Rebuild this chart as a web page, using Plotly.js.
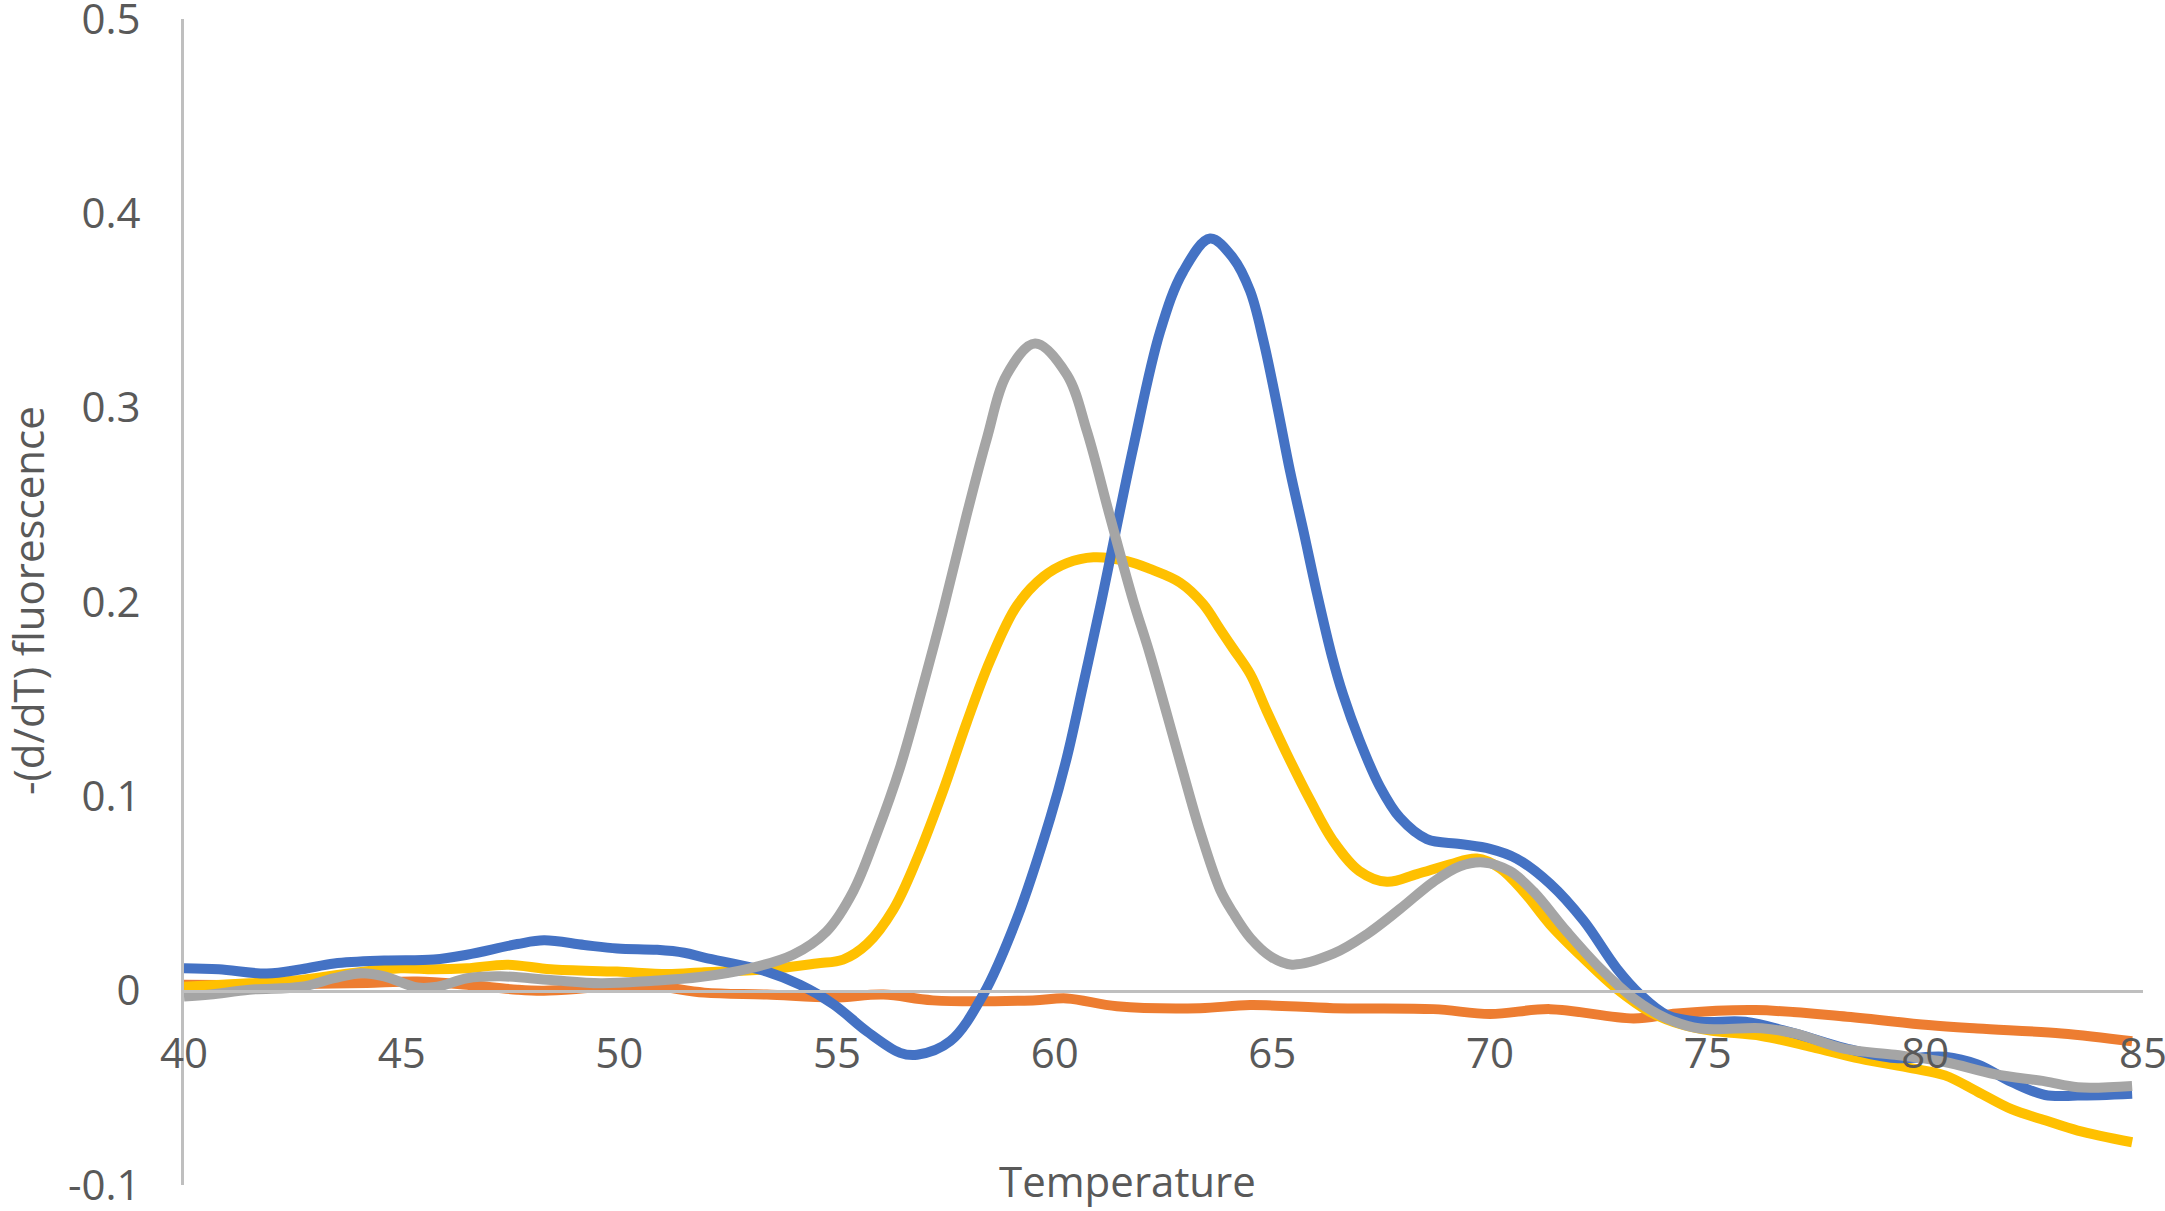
<!DOCTYPE html>
<html>
<head>
<meta charset="utf-8">
<script src="https://cdn.plot.ly/plotly-3.0.1.min.js"></script>
<style>
  body { margin: 0; background: #fff; }
  #plot-area { width: 2165px; height: 1211px; }
</style>
</head>
<body>
<div id="plot-area"></div>
<script>
// melt curves: temperature (x) and -(d/dT) fluorescence (y)
const blueT = [40, 40.8, 41.9, 42.7, 43.45, 44.6, 45.74, 46.5, 47.66, 48.27, 49.19, 49.95, 50.87, 51.49, 51.95,
  53.39, 54.15, 54.92, 55.69, 56.45, 56.84, 57.6, 58.36, 59.13, 59.9, 60.28, 60.66, 61.05, 61.8, 62.42,
  62.95, 63.57, 64.1, 64.49, 64.8, 65.11, 65.41, 65.72, 66.02, 66.37, 66.63, 67.0, 67.47, 67.93, 68.55,
  69.31, 70.0, 70.61, 71.38, 72.15, 72.91, 73.45, 74.06, 74.83, 75.86, 77.0, 78.15, 79.3, 80.45, 81.2,
  81.98, 82.75, 83.5, 84.75]
const blueY = [0.0115, 0.011, 0.0088, 0.011, 0.014, 0.0155, 0.016, 0.0185, 0.024, 0.0259, 0.0235, 0.0217, 0.021, 0.0195, 0.017,
  0.0098, 0.003, -0.007, -0.021, -0.032, -0.033, -0.026, -0.002, 0.037, 0.089, 0.120, 0.158, 0.198, 0.279, 0.339,
  0.370, 0.387, 0.377, 0.360, 0.334, 0.301, 0.267, 0.236, 0.205, 0.172, 0.152, 0.129, 0.105, 0.089, 0.078,
  0.0755, 0.073, 0.068, 0.055, 0.036, 0.0115, -0.002, -0.0125, -0.016, -0.016, -0.022, -0.0295, -0.0347, -0.034, -0.038,
  -0.047, -0.0537, -0.054, -0.053]

const orangeT = [40, 41.5, 43.06, 44.2, 45.36, 46.5, 47.66, 48.27, 49.57, 50.72, 51.95, 53.39, 54.92, 56.07,
  57.2, 59.5, 60.28, 61.43, 63.34, 64.49, 66.4, 68.7, 70.0, 71.38, 73.3, 74.3, 76.1, 78.2, 80.07, 81.2,
  83.13, 84.75]
const orangeY = [0.003, 0.003, 0.0035, 0.004, 0.0047, 0.003, 0.0005, 0.0, 0.0017, 0.0025, -0.001, -0.002, -0.0035, -0.002,
  -0.005, -0.005, -0.004, -0.008, -0.009, -0.0074, -0.009, -0.0095, -0.012, -0.0095, -0.0143, -0.0117, -0.010, -0.0134, -0.0177, -0.0195,
  -0.022, -0.026]

const goldT = [40, 41.5, 42.7, 43.83, 44.98, 45.74, 46.5, 47.43, 48.42, 49.95, 51.1, 51.95, 53.39, 54.53,
  55.14, 55.69, 56.3, 56.84, 57.44, 57.98, 58.52, 59.13, 59.74, 60.28, 60.89, 61.66, 62.19, 62.88, 63.41,
  63.8, 64.1, 64.49, 64.87, 65.33, 65.87, 66.4, 67.0, 67.63, 68.32, 69.08, 69.7, 70.23, 70.77, 71.38,
  72.15, 72.91, 73.68, 74.44, 75.1, 76.24, 77.4, 78.5, 79.7, 80.45, 81.2, 81.98, 82.75, 83.5, 84.75]
const goldY = [0.002, 0.0038, 0.0055, 0.009, 0.0115, 0.011, 0.0115, 0.0134, 0.011, 0.0098, 0.0086, 0.0095, 0.011, 0.014,
  0.016, 0.024, 0.042, 0.068, 0.103, 0.138, 0.170, 0.198, 0.213, 0.220, 0.223, 0.221, 0.217, 0.210, 0.199,
  0.186, 0.176, 0.163, 0.144, 0.122, 0.098, 0.077, 0.0615, 0.056, 0.060, 0.065, 0.068, 0.063, 0.051, 0.034,
  0.0166, 0.001, -0.011, -0.0177, -0.0207, -0.0233, -0.029, -0.035, -0.040, -0.0436, -0.052, -0.061, -0.0667, -0.072, -0.078]

const greyT = [40, 40.6, 41.5, 42.7, 43.45, 44.06, 44.6, 45.36, 45.82, 46.5, 47.27, 48.42, 49.57, 50.72,
  51.85, 53.0, 53.99, 54.76, 55.37, 55.9, 56.45, 56.99, 57.44, 57.98, 58.44, 58.9, 59.55, 60.28, 60.74,
  61.27, 61.8, 62.19, 62.88, 63.34, 63.8, 64.1, 64.5, 65.0, 65.45, 66.4, 67.17, 67.93, 68.7, 69.31,
  69.85, 70.46, 71.0, 71.76, 72.53, 73.3, 74.06, 74.83, 76.24, 77.0, 78.15, 79.3, 80.45, 81.6, 82.75,
  83.5, 84.75]
const greyY = [-0.003, -0.002, 0.0005, 0.002, 0.0064, 0.009, 0.0074, 0.0016, 0.002, 0.0064, 0.0074, 0.0055, 0.0038, 0.005,
  0.007, 0.0115, 0.0185, 0.0305, 0.051, 0.080, 0.115, 0.158, 0.196, 0.245, 0.284, 0.317, 0.333, 0.317, 0.288,
  0.244, 0.201, 0.173, 0.118, 0.082, 0.052, 0.040, 0.027, 0.017, 0.0134, 0.019, 0.029, 0.042, 0.056, 0.064,
  0.066, 0.0615, 0.051, 0.0305, 0.0115, -0.004, -0.0143, -0.0195, -0.0193, -0.022, -0.030, -0.033, -0.0367, -0.043, -0.0467,
  -0.0497, -0.049]

const xTickVals = [40, 45, 50, 55, 60, 65, 70, 75, 80, 85]
const xTickText = ["40", "45", "50", "55", "60", "65", "70", "75", "80", "85"]
const yTickVals = [-0.1, 0, 0.1, 0.2, 0.3, 0.4, 0.5]
const yTickText = ["-0.1", "0", "0.1", "0.2", "0.3", "0.4", "0.5"]

showPlot()

function curve(x, y, color) {
  return {
    x: x,
    y: y,
    type: 'scatter',
    mode: 'lines',
    line: {color: color, width: 10, shape: 'spline', smoothing: 1},
    hoverinfo: 'skip'
  }
}

function showPlot() {
  const font = {family: 'Open Sans, sans-serif', size: 42, color: '#595959'}
  const axisLine = '#BFBFBF'

  const traces = [
    curve(orangeT, orangeY, '#ED7D31'),
    curve(goldT, goldY, '#FFC000'),
    curve(blueT, blueY, '#4472C4'),
    curve(greyT, greyY, '#A5A5A5')
  ]

  const layout = {
    width: 2165,
    height: 1211,
    margin: {l: 184, r: 22, t: 19, b: 26},
    paper_bgcolor: '#ffffff',
    plot_bgcolor: '#ffffff',
    showlegend: false,
    font: font,
    xaxis: {
      range: [40, 85],
      tickvals: xTickVals,
      ticktext: xTickText,
      ticks: '',
      ticklabelstandoff: 25,
      ticklabeloverflow: 'allow',
      showgrid: false,
      zeroline: false,
      showline: true,
      linecolor: axisLine,
      linewidth: 3,
      anchor: 'free',
      position: 1 / 6,
      tickfont: font
    },
    yaxis: {
      range: [-0.1, 0.5],
      tickvals: yTickVals,
      ticktext: yTickText,
      ticks: '',
      ticklabelstandoff: 32,
      ticklabeloverflow: 'allow',
      showgrid: false,
      zeroline: false,
      showline: true,
      linecolor: axisLine,
      linewidth: 3,
      tickfont: font
    },
    annotations: [
      {
        text: 'Temperature', xref: 'paper', yref: 'paper',
        x: 0.4814, y: 0.004, xanchor: 'center', yanchor: 'middle',
        showarrow: false, font: {family: font.family, size: 42, color: font.color}
      },
      {
        text: '-(d/dT) fluorescence', xref: 'paper', yref: 'paper',
        x: -0.0795, y: 0.501, xanchor: 'center', yanchor: 'middle', textangle: -90,
        showarrow: false, font: {family: font.family, size: 42, color: font.color}
      }
    ]
  }

  Plotly.newPlot('plot-area', traces, layout, {displayModeBar: false, staticPlot: true})
}
</script>
</body>
</html>
